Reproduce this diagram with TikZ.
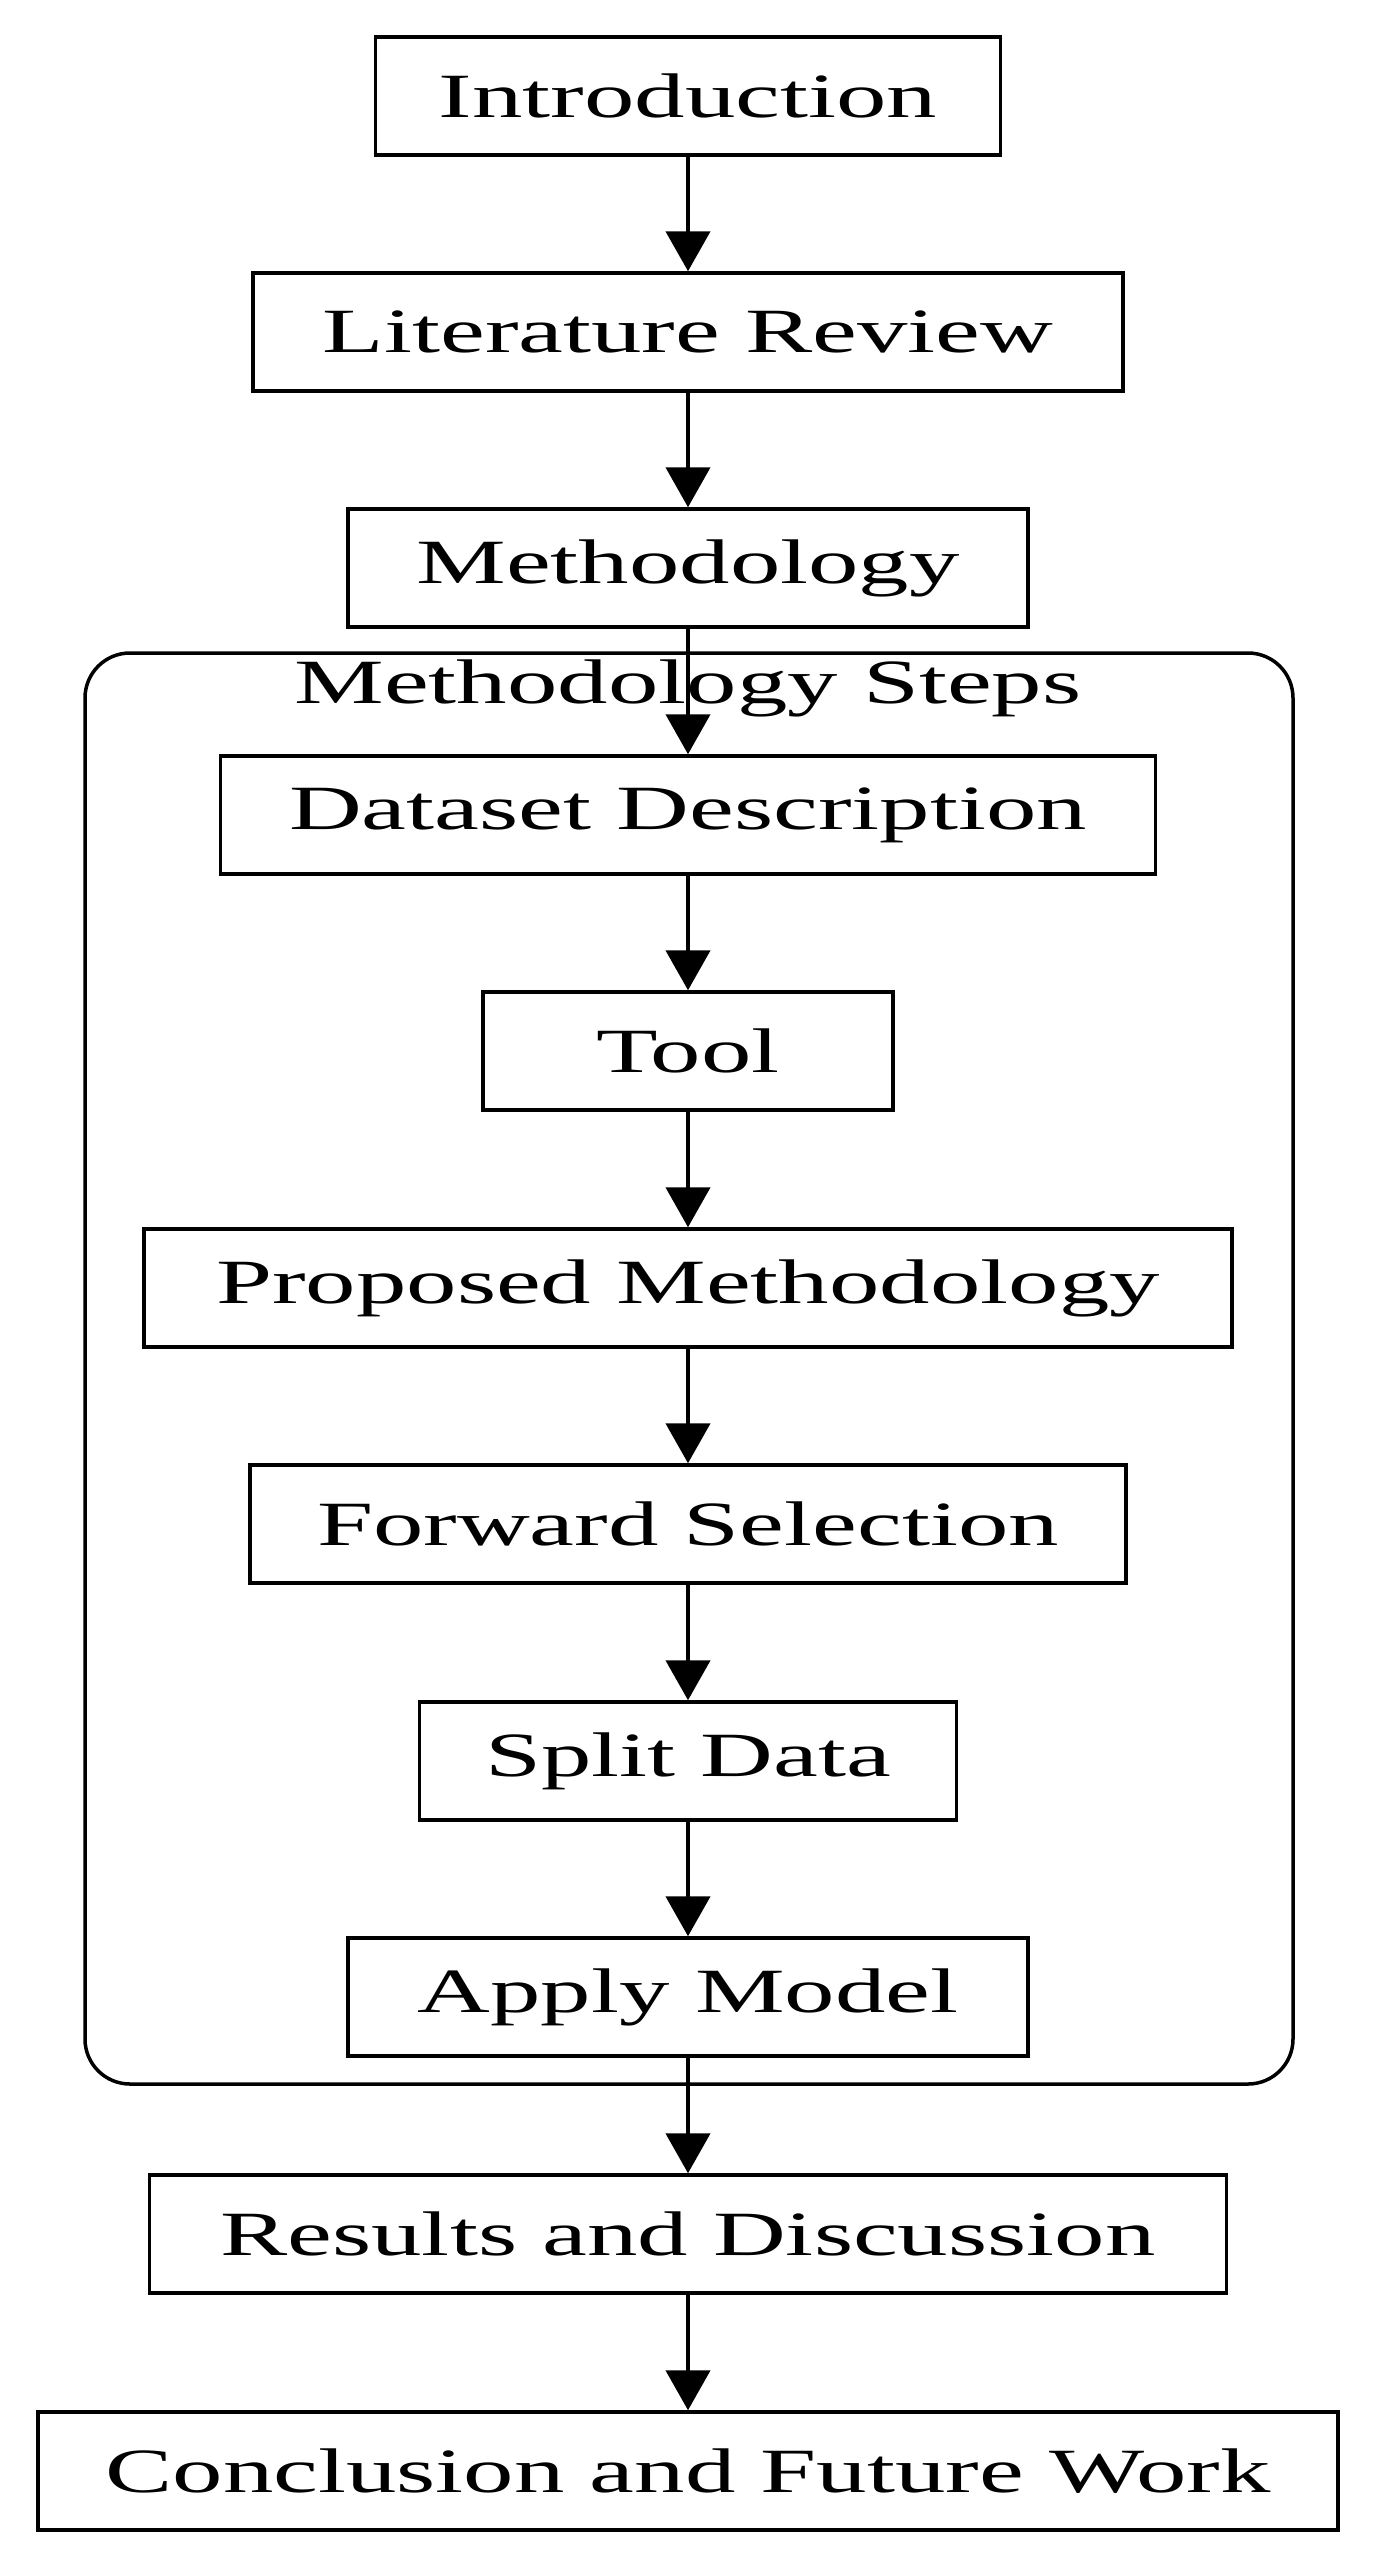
\documentclass[tikz,border=0pt]{standalone}
\usepackage{fontspec}
\setmainfont{Liberation Serif}
\usetikzlibrary{arrows.meta}
\newcommand{\st}[1]{\scalebox{1.6}[1]{#1}}
\begin{document}
\begin{tikzpicture}[x=1pt,y=-1pt,
 box/.style={draw,line width=3.5pt,minimum height=118pt,inner sep=0pt,font=\fontsize{63}{70}\selectfont},
 arr/.style={line width=4.5pt,-{Triangle[width=44pt,length=40pt]}}]
\useasboundingbox (0,0) rectangle (1379,2562);
\draw[line width=3.5pt,rounded corners=45pt] (85,653) rectangle (1293,2084);
\node[font=\fontsize{63}{70}\selectfont] (lab) at (688,688) {\st{Methodology Steps}};
\node[box,minimum width=625pt] (a) at (688,96) {\st{Introduction}};
\node[box,minimum width=870pt] (b) at (688,332) {\st{Literature Review}};
\node[box,minimum width=680pt] (c) at (688,568) {\st{Methodology}};
\node[box,minimum width=935pt] (d) at (688,815) {\st{Dataset Description}};
\node[box,minimum width=410pt] (e) at (688,1051) {\st{Tool}};
\node[box,minimum width=1088pt] (f) at (688,1288) {\st{Proposed Methodology}};
\node[box,minimum width=876pt] (g) at (688,1524) {\st{Forward Selection}};
\node[box,minimum width=537pt] (h) at (688,1761) {\st{Split Data}};
\node[box,minimum width=680pt] (i) at (688,1997) {\st{Apply Model}};
\node[box,minimum width=1077pt] (j) at (688,2234) {\st{Results and Discussion}};
\node[box,minimum width=1300pt] (k) at (688,2471) {\st{Conclusion and Future Work}};
\foreach \p/\q in {a/b,b/c,c/d,d/e,e/f,f/g,g/h,h/i,i/j,j/k}
  \draw[arr] (\p) -- (\q);
\end{tikzpicture}
\end{document}
